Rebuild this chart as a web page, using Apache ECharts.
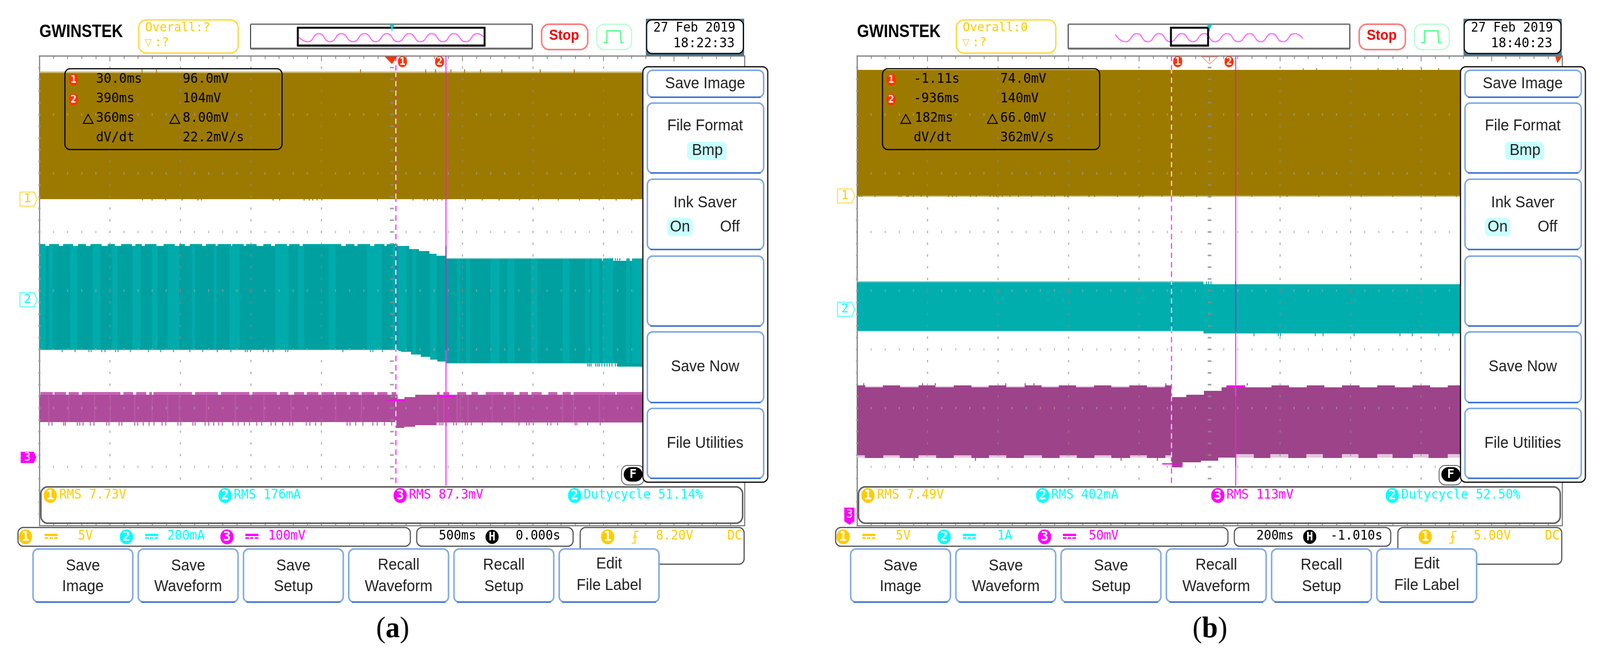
<!DOCTYPE html>
<html>
<head>
<meta charset="utf-8">
<title>Oscilloscope captures</title>
<script src="https://cdn.jsdelivr.net/npm/echarts@6/dist/echarts.min.js"></script>
<style>
  html, body { margin: 0; padding: 0; background: #fff; width: 100%; height: 100%; overflow: hidden; }
  #main { width: 4266px; height: 1675px; transform-origin: 0 0; }
</style>
</head>
<body>
<div id="main"></div>
<script>
// x is ms from screen centre, y is divisions from screen centre

// ---- panel a ----
var brownA = [[-2500, 1800, 1.5625, 3.71]]
var brownEdgeA = [[-2500, 1800, 3.71, 3.735]]
var brownTopSpikesA = [-1772, -1670, -223, 239, 309, 418, 515, 628, 779, 1052, 1293]
var brownLowSpikesA = [-1769, -1701, -1604, -1488, -1376, -1351, -843, -796, -623, -586, -562, -531, -497, -104, 150, 228, 252, 293, 323, 354, 384, 520, 640, 760, 905, 1040, 1180, 1330, 1470, 1590, 1700]

var tealA = [
  [-2500, 27, -1.009, 0.76], [27, 40, -1.009, 0.791], [40, 64, -1.009, 0.76], [64, 123, -1.042, 0.76],
  [123, 135, -1.042, 0.705], [135, 191, -1.09, 0.705], [191, 204, -1.09, 0.672], [204, 266, -1.124, 0.672],
  [266, 272, -1.124, 0.627], [272, 317, -1.175, 0.627], [317, 323, -1.175, 0.592], [323, 379, -1.208, 0.592],
  [379, 384, -1.241, 0.592], [384, 1489, -1.241, 0.554], [1489, 1602, -1.241, 0.512], [1602, 1800, -1.292, 0.512]
]
var tealCapsA = [
  [-2501, -2458], [-2430, -2363], [-2332, -2261], [-2226, -2170], [-2139, -2058], [-2017, -1966], [-1921, -1844], [-1819, -1773],
  [-1752, -1671], [-1620, -1539], [-1508, -1467], [-1433, -1345], [-1319, -1250], [-1237, -1142], [-1132, -1050], [-1034, -959],
  [-912, -857], [-830, -745], [-729, -653], [-633, -358], [-328, -267], [-246, -155], [-124, -53], [-37, 24]
]
var tealLightA = [
  [-2495, -2454], [-2434, -2404], [-2281, -2231], [-2119, -2068], [-1986, -1946], [-1840, -1783], [-1701, -1661], [-1590, -1508],
  [-1417, -1396], [-1264, -1244], [-1152, -1081], [-826, -735], [-664, -623], [-450, -399], [-175, -73]
]
var tealLightStepA = [[5, 28, -1.0, 0.76], [46, 105, -1.03, 0.75], [147, 171, -1.08, 0.70], [272, 317, -1.17, 0.62]]
var tealLightTailA = [
  [462, 483], [527, 554], [699, 764], [818, 871], [984, 1032], [1210, 1257], [1370, 1400],
  [1418, 1471], [1495, 1566], [1661, 1685], [1703, 1780]
]
var tealLowSpikesA = [-2338, -2247, -2149, -2133, -2058, -2035, -1960, -1942, -1854, -1726, -1640, -1549, -1433, -1343, -1239, -1142, -1040, -1026, -1003, -912, -877, -843, -755, -739, -348, -151, -135, -67]
var tealTailLowSpikesA = [1388, 1400, 1412, 1445, 1459, 1471, 1489, 1507, 1525, 1542, 1560, 1584, 1599]
var tealTailTopSpikesA = [1513, 1531, 1549, 1566, 1584, 1599, 1616]

var purpleA = [
  [-2500, 27, -2.239, -1.775], [27, 40, -2.338, -1.775], [40, 88, -2.338, -1.848], [88, 165, -2.316, -1.811],
  [165, 317, -2.294, -1.773], [317, 1800, -2.245, -1.773]
]
var purpleCapsA = [
  [-2491, -2404], [-2393, -2312], [-2292, -2220], [-2200, -1925], [-1905, -1834], [-1813, -1742], [-1722, -1701], [-1691, -1417],
  [-1396, -1233], [-1213, -1010], [-989, -816], [-796, -735], [-694, -623], [-603, -521], [-501, -409], [-399, -318], [-297, -236],
  [-216, -124], [-104, -33], [-2, 28], [319, 337], [364, 408], [462, 527], [563, 610], [664, 792], [808, 865], [903, 966],
  [990, 1061], [1109, 1172], [1210, 1269], [1287, 1584], [1592, 1780]
]
var purpleLowSpikesA = [
  -2434, -2410, -2328, -2316, -2231, -2214, -2190, -2139, -2113, -2023, -2007, -1935, -1915, -1824, -1803, -1763, -1722, -1687,
  -1630, -1604, -1518, -1498, -1412, -1396, -1325, -1299, -1264, -1229, -1203, -1128, -1091, -1046, -1010, -959, -924, -857, -826,
  -775, -725, -704, -607, -582, -542, -501, -318, -297, -257, -206, -135, -104, -53, -2
]
var purpleTailSpikesA = [337, 349, 361, 438, 456, 521, 535, 563, 640, 780, 901, 955, 972, 1002, 1103, 1127, 1174, 1299, 1311, 1388, 1477]
var purpleStreaksA = [-2434, -2292, -2109, -1997, -1824, -1701, -1590, -1508, -1315, -1111, -908, -715, -399, -216, 325, 367, 462, 485, 539, 711, 871, 1210, 1287, 1471]

var cursorsA = [28, 383]
var cursorMarksA = [-1.868, -1.80]
var overviewXA = [129, 153, 182, 212, 242, 273, 304, 334, 363, 393, 423, 453, 483, 513, 542, 574, 604, 621]
var overviewYA = [0.1, -1, 1, -1, 1, -1, 1, -1, 1, -1, 1, -1, 1, -1, 1, -1, 1, 0.2]

// ---- panel b ----
var brownB = [[-1000, 800, 1.622, 3.763]]
var brownEdgeB = [[-1000, 800, 1.60, 1.622]]
var brownTopSpikesB = [266, 304, 478, 534, 547, 601, 650]
var brownLowSpikesB = [-993, -987, -949, -881, -875, -859, -855, -840, -818, -802, -741, -729, -718, -678, -662, -623, -612, -604, -588, -566, -542, -505, -467, -448, -440, -411, -403, -342, -326, -261, -197, -189, -135, -83, -74, -37, 0, 120, 220, 310, 430, 520, 640, 700]

var tealB = [[-1000, -17, -0.698, 0.16], [-17, 800, -0.728, 0.11]]
var tealEdgeB = [[-1000, -17, 0.145, 0.16], [-1000, -17, -0.698, -0.683]]
var tealTopSpikesB = [-9, -3, 4]
var tealLowSpikesB = [126, 195, 201, 300, 322, 410, 540, 575, 650, 690]

var purpleB = [
  [-1000, -109, -2.80, -1.646], [-109, -77, -3.012, -1.811], [-77, -66, -2.926, -1.811], [-66, -25, -2.926, -1.775],
  [-25, -16, -2.897, -1.775], [-16, 24, -2.897, -1.707], [24, 34, -2.845, -1.707], [34, 75, -2.845, -1.646], [75, 800, -2.78, -1.646]
]
var purpleTopTabsB = [
  [-1000, -977], [-927, -878], [-826, -778], [-726, -676], [-627, -577], [-525, -477], [-428, -379], [-328, -279], [-228, -178],
  [-127, -109], [48, 101], [175, 225], [275, 325], [375, 425], [475, 525], [575, 625], [675, 725]
]
var purpleLowTabsB = [
  [-978, -926], [-879, -826], [-776, -726], [-676, -626], [-577, -527], [-476, -426], [-377, -327], [-279, -226], [-178, -126],
  [125, 172], [223, 274], [321, 375], [422, 476], [519, 577], [621, 675], [711, 780]
]
var purplePaleB = [[-1000, -109, -1.646, -1.625], [-1000, -109, -2.845, -2.80], [75, 800, -2.845, -2.78]]
var purpleTopSpikesB = [-981, -814, -778, -578, -523, -498, -124, 107]
var purpleLowSpikesB = [-838, -664, -251, -148]

var cursorsB = [-108, 74]
var cursorMarksB = [-2.95, -1.632]
var overviewXB = [125, 153, 183, 212, 242, 272, 303, 332, 363, 391, 424, 453, 484, 513, 543, 572, 604, 626]
var overviewYB = [0.8, -1, 1, -1, 1, -1, 1, -1, 1, -1, 1, -1, 1, -1, 1, -1, 1, -0.2]

// ---- screen grid ----
var rowMajor = [-4, -3, -2, -1, 0, 1, 2, 3, 4]
var rowMinor = [-3.8, -3.6, -3.4, -3.2, -3, -2.8, -2.6, -2.4, -2.2, -2, -1.8, -1.6, -1.4, -1.2, -1, -0.8, -0.6, -0.4, -0.2, 0, 0.2, 0.4, 0.6, 0.8, 1, 1.2, 1.4, 1.6, 1.8, 2, 2.2, 2.4, 2.6, 2.8, 3, 3.2, 3.4, 3.6, 3.8]
var colDivs = [-5, -4, -3, -2, -1, 0, 1, 2, 3, 4]
var colSubDivs = [0, 0.2, 0.4, 0.6, 0.8]

// ---- readouts ----
var softKeys = [['Save', 'Image'], ['Save', 'Waveform'], ['Save', 'Setup'], ['Recall', 'Waveform'], ['Recall', 'Setup'], ['Edit', 'File Label']]
var readoutA = { overall: 'Overall:?', date: '27 Feb 2019', time: '18:22:33', cursor: ['30.0ms', '96.0mV', '390ms', '104mV', '360ms', '8.00mV', 'dV/dt', '22.2mV/s'], rms: ['RMS 7.73V', 'RMS 176mA', 'RMS 87.3mV', 'Dutycycle 51.14%'], scale: ['5V', '200mA', '100mV'], base: ['500ms', '0.000s'], trig: '8.20V', caption: 'a' }
var readoutB = { overall: 'Overall:0', date: '27 Feb 2019', time: '18:40:23', cursor: ['-1.11s', '74.0mV', '-936ms', '140mV', '182ms', '66.0mV', 'dV/dt', '362mV/s'], rms: ['RMS 7.49V', 'RMS 402mA', 'RMS 113mV', 'Dutycycle 52.50%'], scale: ['5V', '1A', '50mV'], base: ['200ms', '-1.010s'], trig: '5.00V', caption: 'b' }

var YELLOW = '#FFCC00', CYAN = '#00FFFF', MAGENTA = '#FF00FF', ORANGE = '#FF3300'
var MONO = '"DejaVu Sans Mono"', SANS = '"Liberation Sans"'

// rows are [t0, t1, lo, hi]
function rowsFromPairs(pairs, lo, hi) {
  return pairs.map(function (p) { return [p[0], p[1], lo, hi] })
}

// snapped to whole pixels so neighbouring rows leave no seam
function renderBand(params, api) {
  var a = api.coord([api.value(0), api.value(3)])
  var b = api.coord([api.value(1), api.value(2)])
  var x = Math.round(a[0]), y = Math.round(a[1])
  return { type: 'rect', shape: { x: x, y: y, width: Math.round(b[0]) - x, height: Math.round(b[1]) - y }, style: { fill: api.visual('color') } }
}

function bandSeries(axis, rows, color, z) {
  return {
    type: 'custom', renderItem: renderBand, xAxisIndex: axis, yAxisIndex: axis, data: rows, z: z, silent: true, clip: true,
    progressive: 0, encode: { x: [0, 1], y: [2, 3] }, itemStyle: { color: color }
  }
}

function spikeSeries(axis, times, base, tip, color, z, width) {
  return {
    type: 'custom', xAxisIndex: axis, yAxisIndex: axis, z: z, silent: true, clip: true, progressive: 0,
    data: times.map(function (t) { return [t, base, tip] }), encode: { x: 0, y: [1, 2] }, itemStyle: { color: color },
    renderItem: function (params, api) {
      var a = api.coord([api.value(0), api.value(1)])
      var b = api.coord([api.value(0), api.value(2)])
      return { type: 'rect', shape: { x: a[0] - width / 2, y: Math.min(a[1], b[1]), width: width, height: Math.abs(a[1] - b[1]) }, style: { fill: api.visual('color') } }
    }
  }
}

function dotSeries(axis, points, size, color) {
  return {
    type: 'scatter', xAxisIndex: axis, yAxisIndex: axis, data: points, symbol: 'rect', symbolSize: size, silent: true, z: 6,
    itemStyle: { color: color }
  }
}

// the dotted graticule sits on top of the traces
function gridSeries(axis, msPerDiv) {
  var cols = [], rows = [], centre = [], rim = [], longTicks = []
  colDivs.forEach(function (d, i) {
    rowMinor.forEach(function (r) {
      if (d === 0) { centre.push([0, r]) } else if (i === 0) { rim.push([d * msPerDiv, r]) } else { cols.push([d * msPerDiv, r]) }
    })
    colSubDivs.forEach(function (s) {
      if (s === 0 && d !== 0 && d !== -5) { longTicks.push([d * msPerDiv, 0]) }
      if (s !== 0) {
        rowMajor.slice(1, 8).forEach(function (r) { rows.push([(d + s) * msPerDiv, r]) })
      }
    })
  })
  return [
    dotSeries(axis, cols, [2.5, 6], '#8C8C8C'), dotSeries(axis, rows, [2.5, 6], '#A8A8A8'),
    dotSeries(axis, centre, [10, 4], '#8C8C8C'), dotSeries(axis, rim, [6, 4], '#A0A0A0'),
    dotSeries(axis, longTicks, [2.5, 12], '#8C7C7C')
  ]
}

function lineSeries(axis, t, y0, y1, color, width, dash, z) {
  return {
    type: 'line', xAxisIndex: axis, yAxisIndex: axis, data: [[t, y0], [t, y1]], symbol: 'none', silent: true, z: z,
    lineStyle: { color: color, width: width, type: dash ? [14, 10] : 'solid', cap: 'butt' }
  }
}

function cursorSeries(axis, cursors, marks, spanWidth, bands) {
  var out = []
  // dashed cursor 1
  out.push(lineSeries(axis, cursors[0], 4, -3.32, '#FF33FF', 3, true, 7))
  bands.forEach(function (b) {
    out.push(lineSeries(axis, cursors[0], b[0], b[1], b[2], 3, false, 8))
    out.push(lineSeries(axis, cursors[0], b[0], b[1], b[3], 3, true, 9))
  })
  // solid cursor 2
  out.push(lineSeries(axis, cursors[1], 4, -3.32, '#FF33FF', 3, false, 7))
  bands.forEach(function (b) {
    out.push(lineSeries(axis, cursors[1], b[0], b[1], b[2], 3, false, 8))
  })
  out.push({
    type: 'scatter', xAxisIndex: axis, yAxisIndex: axis, symbol: 'rect', symbolSize: [spanWidth, 4], silent: true, z: 9,
    data: [[cursors[0], marks[0]], [cursors[1], marks[1]]], itemStyle: { color: MAGENTA }
  })
  return out
}

function overviewSeries(axis, xs, ys) {
  return {
    type: 'line', xAxisIndex: axis, yAxisIndex: axis, data: xs.map(function (x, i) { return [x, ys[i]] }), symbol: 'none', silent: true,
    smooth: 0.55, smoothMonotone: 'x', lineStyle: { color: '#FF66FF', width: 3 }, z: 3
  }
}

// ---- chrome drawn on the page, ox is the panel offset ----
function txt(x, y, s, color, size, font, opt) {
  opt = opt || {}
  return {
    type: 'text', x: x, y: y, z: opt.z || 110, scaleX: opt.scaleX || 1, silent: true,
    style: { text: s, fill: color, font: (opt.weight || 'normal') + ' ' + size + 'px ' + font, textAlign: opt.align || 'left', textVerticalAlign: 'middle' }
  }
}
function box(x, y, w, h, r, stroke, lw, fill, z) {
  return { type: 'rect', z: z || 105, silent: true, shape: { x: x, y: y, width: w, height: h, r: r }, style: { fill: fill || 'transparent', stroke: stroke || 'transparent', lineWidth: lw || 0 } }
}
function poly(points, fill, stroke, lw, closed, z) {
  return { type: closed === false ? 'polyline' : 'polygon', z: z || 108, silent: true, shape: { points: points }, style: { fill: closed === false ? 'transparent' : (fill || 'transparent'), stroke: stroke || 'transparent', lineWidth: lw || 0 } }
}
function pill(cx, cy, w, h, fill, digit, digitSize) {
  return [box(cx - w / 2, cy - h / 2, w, h, w / 2, null, 0, fill, 108), txt(cx, cy + 1, digit, '#fff', digitSize || 30, MONO, { align: 'center', z: 109, weight: 'bold' })]
}
function softKey(x, y, w, h, z) {
  return [box(x, y, w, h, 14, '#7FA8E8', 4, '#fff', z || 106), poly([[x + 8, y + h], [x + w - 8, y + h]], null, '#3F74D4', 4, false, z || 107)]
}

function drawPanel(ox, info, isA) {
  var g = [], t = info.cursor
  function add(items) { g = g.concat(items) }

  // header
  add(txt(ox + 105, 82, 'GWINSTEK', '#000', 47, SANS, { weight: 'bold', scaleX: 0.88 }))
  add(box(ox + 370, 51, 265, 85, 20, '#FFD21E', 3, '#fff'))
  add(txt(ox + 387, 72, info.overall, YELLOW, 32, MONO))
  add(txt(ox + 385, 110, '▽', '#FFD966', 34, MONO))
  add(txt(ox + 412, 110, ':?', YELLOW, 32, MONO))

  add(box(ox + 668, 63, 751, 61, 0, '#000', 2, '#fff', 1))
  add(box(ox + 668, 60, 751, 4, 0, null, 0, '#808080', 2))
  add(box(ox + 668, 122, 751, 5, 0, null, 0, '#707070', 2))
  var winX = isA ? 794 : 942, winW = isA ? 498 : 99
  add(box(ox + winX, 112, winW, 5, 0, null, 0, '#C8C8C8', 2))
  add(box(ox + winX, 71, winW, 46, 0, '#000', 5, null, 4))
  var mark = ox + 1045
  add(poly([[mark - 7, 63], [mark + 7, 63], [mark + 1, 75], [mark + 1, 80], [mark - 1, 80], [mark - 1, 75]], '#00D0D0'))

  add(box(ox + 1444, 62, 123, 65, 20, '#FF7878', 4, '#fff'))
  add(txt(ox + 1504, 92, 'Stop', '#F00000', 36, SANS, { weight: 'bold', align: 'center' }))
  add(box(ox + 1591, 62, 93, 65, 20, '#B0FFD0', 3, '#fff'))
  add(poly([[ox + 1609, 109], [ox + 1618, 109], [ox + 1618, 79], [ox + 1654, 79], [ox + 1656, 109], [ox + 1663, 109]], null, '#66FF99', 4, false))
  add(box(ox + 1722, 48, 262, 95, 0, null, 0, '#4F7890', 104))
  add(box(ox + 1724, 51, 258, 86, 14, '#000', 3, '#fff'))
  add(txt(ox + 1742, 72, info.date, '#000', 33, MONO))
  add(txt(ox + 1795, 112, info.time, '#000', 34, MONO))

  // cursor readout
  add(box(ox + 173, 176, 579, 207, 14, '#000', 3, null))
  var rows = [203, 253, 303, 353]
  add(pill(ox + 196, 204, 24, 30, ORANGE, '1', 26))
  add(pill(ox + 196, 255, 24, 30, ORANGE, '2', 26))
  add(txt(ox + 256, rows[0], t[0], '#000', 34, MONO))
  add(txt(ox + 487, rows[0], t[1], '#000', 34, MONO))
  add(txt(ox + 256, rows[1], t[2], '#000', 34, MONO))
  add(txt(ox + 487, rows[1], t[3], '#000', 34, MONO))
  add(poly([[ox + 235, 293], [ox + 248, 316], [ox + 222, 316]], null, '#000', 2.5))
  add(poly([[ox + 466, 293], [ox + 479, 316], [ox + 453, 316]], null, '#000', 2.5))
  add(txt(ox + (isA ? 256 : 259), rows[2], t[4], '#000', 34, MONO))
  add(txt(ox + 487, rows[2], t[5], '#000', 34, MONO))
  add(txt(ox + 256, rows[3], t[6], '#000', 34, MONO))
  add(txt(ox + 487, rows[3], t[7], '#000', 34, MONO))

  // cursor and trigger flags on the ruler
  if (isA) {
    add(poly([[ox + 1026, 145], [ox + 1059, 145], [ox + 1045, 164]], ORANGE))
    add(pill(ox + 1073, 158, 24, 28, ORANGE, '1', 26))
    add(pill(ox + 1172, 158, 24, 28, ORANGE, '2', 26))
  } else {
    add(poly([[ox + 1025, 146], [ox + 1066, 146], [ox + 1045, 164]], null, '#FF9A80', 2))
    add(pill(ox + 960, 158, 24, 28, ORANGE, '1', 26))
    add(pill(ox + 1097, 158, 24, 28, ORANGE, '2', 26))
    add(poly([[ox + 1967, 145], [ox + 1985, 145], [ox + 1972, 162]], ORANGE))
  }

  // channel flags
  var y1 = isA ? 510 : 502, y2 = isA ? 768 : 792
  add(poly([[ox + 53, y1 - 18], [ox + 91, y1 - 18], [ox + 99, y1], [ox + 91, y1 + 18], [ox + 53, y1 + 18]], '#fff', '#FFE066', 3))
  add(txt(ox + 73, y1, '1', YELLOW, 32, MONO, { align: 'center' }))
  add(poly([[ox + 53, y2 - 18], [ox + 91, y2 - 18], [ox + 99, y2], [ox + 91, y2 + 18], [ox + 53, y2 + 18]], '#fff', '#66FFFF', 3))
  add(txt(ox + 73, y2, '2', CYAN, 32, MONO, { align: 'center' }))
  if (isA) {
    add(poly([[55, 1157], [90, 1157], [97, 1171], [90, 1186], [55, 1186]], MAGENTA))
    add(txt(73, 1172, '3', '#fff', 30, MONO, { align: 'center', z: 109 }))
  } else {
    add(poly([[ox + 71, 1300], [ox + 98, 1300], [ox + 98, 1335], [ox + 85, 1344], [ox + 71, 1335]], MAGENTA))
    add(txt(ox + 85, 1318, '3', '#fff', 30, MONO, { align: 'center', z: 109 }))
  }

  // measurement strip
  add(box(ox + 109, 1247, 1871, 93, 18, '#606060', 4, '#fff', 90))
  var rmsCircles = [[134, YELLOW, '1'], [600, CYAN, '2'], [1067, MAGENTA, '3'], [1532, CYAN, '2']]
  var rmsX = [158, 623, 1090, 1556], rmsColor = [YELLOW, CYAN, MAGENTA, CYAN]
  rmsCircles.forEach(function (c, i) {
    add(pill(ox + c[0], 1269, 35, 38, c[1], c[2], 34))
    add(txt(ox + rmsX[i], 1268, info.rms[i], rmsColor[i], 33, MONO))
  })

  // vertical scale strip
  add(box(ox + 48, 1351, 1046, 48, 14, '#505050', 3, '#fff'))
  var scaleCircles = [[68, YELLOW, '1', 119, 208], [337, CYAN, '2', 387, isA ? 446 : 479], [605, MAGENTA, '3', 654, isA ? 715 : 723]]
  scaleCircles.forEach(function (c, i) {
    add(pill(ox + c[0], 1375, 35, 38, c[1], c[2], 34))
    add(box(ox + c[3], 1367, 35, 6, 0, null, 0, c[1], 108))
    add(box(ox + c[3], 1376, 10, 4, 0, null, 0, c[1], 108))
    add(box(ox + c[3] + 13, 1376, 9, 4, 0, null, 0, c[1], 108))
    add(box(ox + c[3] + 25, 1376, 10, 4, 0, null, 0, c[1], 108))
    add(txt(ox + c[4], 1373, info.scale[i], c[1], 33, MONO))
  })

  // timebase strip
  add(box(ox + 1111, 1351, 417, 48, 14, '#505050', 3, '#fff'))
  add(txt(ox + 1170, 1373, info.base[0], '#000', 33, MONO))
  add(pill(ox + 1312, 1375, 35, 36, '#000', 'H', 30))
  add(txt(ox + (isA ? 1375 : 1367), 1373, info.base[1], '#000', 33, MONO))

  // trigger strip, runs underneath the last soft key
  add(box(ox + 1547, 1351, 437, 94, 14, '#505050', 3, '#fff', 95))
  add(pill(ox + 1620, 1375, 35, 38, YELLOW, '1', 34))
  add(poly([[ox + 1704, 1361], [ox + 1693, 1361], [ox + 1693, 1391], [ox + 1684, 1391]], null, YELLOW, 2.5, false))
  add(poly([[ox + 1688, 1379], [ox + 1693, 1370], [ox + 1698, 1379]], null, YELLOW, 2, false))
  add(txt(ox + 1749, 1373, info.trig, YELLOW, 33, MONO))
  add(txt(ox + 1939, 1373, 'DC', YELLOW, 33, MONO))

  // bottom soft keys
  softKeys.forEach(function (k, i) {
    var x = 88 + i * 280.6
    add(softKey(ox + x, 1406, 266, 136))
    var up = i === 5 ? 5 : (i >= 3 ? 2 : 0)
    add(txt(ox + x + 133, 1450 - up, k[0], '#222', 40, SANS, { align: 'center' }))
    add(txt(ox + x + 133, 1503 - (i === 5 ? 3 : 0), k[1], '#222', 40, SANS, { align: 'center' }))
  })

  // F badge and side menu
  add(box(ox + 1657, 1192, 60, 50, 16, '#505050', 2, '#fff', 96))
  add(pill(ox + 1688, 1215, 50, 37, '#000', 'F', 32))
  add(box(ox + 1714, 171, 333, 1064, 14, '#000', 3, '#fff', 100))
  var sideKeys = [[180, 69], [264, 179], [459, 180], [656, 179], [850, 181], [1046, 179]]
  sideKeys.forEach(function (k) { add(softKey(ox + 1726, k[0], 310, k[1], 101)) })
  add(box(ox + 1832, 363, 105, 47, 12, null, 0, '#C8FFFF'))
  add(box(ox + 1779, 558, 68, 47, 12, null, 0, '#C8FFFF'))
  add(txt(ox + 1880, 215, 'Save Image', '#222', 40, SANS, { align: 'center' }))
  add(txt(ox + 1880, 323, 'File Format', '#222', 40, SANS, { align: 'center' }))
  add(txt(ox + 1886, 386, 'Bmp', '#222', 40, SANS, { align: 'center' }))
  add(txt(ox + 1880, 520, 'Ink Saver', '#222', 40, SANS, { align: 'center' }))
  add(txt(ox + 1813, 582, 'On', '#222', 40, SANS, { align: 'center' }))
  add(txt(ox + 1946, 582, 'Off', '#222', 40, SANS, { align: 'center' }))
  add(txt(ox + 1880, 940, 'Save Now', '#222', 40, SANS, { align: 'center' }))
  add(txt(ox + 1880, 1136, 'File Utilities', '#222', 40, SANS, { align: 'center' }))

  // caption, letter is bold
  add({
    type: 'text', x: ox + (isA ? 1047 : 1046), y: 1612, z: 110, silent: true,
    style: {
      text: '{p|(}{l|' + info.caption + '}{p|)}', textAlign: 'center', textVerticalAlign: 'middle',
      rich: { p: { font: '76px "Liberation Serif"', fill: '#000' }, l: { font: 'bold 76px "Liberation Serif"', fill: '#000' } }
    }
  })
  return g
}

var GRID_A = { left: 105, top: 143, width: 1880, height: 1203 }
var GRID_B = { left: 2285, top: 143, width: 1880, height: 1203 }

function timeAxis(idx, pos, half, step) {
  return {
    type: 'value', gridIndex: idx, position: pos, min: -half, max: half, interval: step,
    axisLine: { show: true, onZero: false, lineStyle: { color: '#808080', width: 3 } },
    axisTick: { show: true, inside: true, length: 14, lineStyle: { color: '#808080', width: 2 } },
    minorTick: { show: true, splitNumber: 5, length: 8, lineStyle: { color: '#808080', width: 2 } },
    axisLabel: { show: false }, splitLine: { show: false }, minorSplitLine: { show: false }
  }
}
function divAxis(idx, pos) {
  return {
    type: 'value', gridIndex: idx, position: pos, min: -4, max: 4, interval: 1,
    axisLine: { show: true, onZero: false, lineStyle: { color: '#808080', width: 3 } },
    axisTick: { show: false }, axisLabel: { show: false }, splitLine: { show: false }
  }
}
function hiddenAxis(idx, min, max) {
  return { type: 'value', gridIndex: idx, min: min, max: max, show: false, splitLine: { show: false } }
}

var BROWN = '#9C7A00', BROWN_PALE = '#CDBB78', TEAL_DARK = '#00A0A0', TEAL_LIGHT = '#00ABAB', TEAL = '#00AEAE', TEAL_PALE = '#80CFCF'
var PURPLE_A = '#AE4C9B', PURPLE_A_CAP = '#C664B6', PURPLE_B = '#9D438A', PURPLE_PALE = '#E2C6DE'

// axis pair 0 and 2 are the screens, 1 and 3 carry the second ruler and right border
var series = [].concat(
  bandSeries(0, brownA, BROWN, 2), bandSeries(0, brownEdgeA, BROWN_PALE, 2),
  spikeSeries(0, brownTopSpikesA, 3.71, 3.77, BROWN, 2, 2.5), spikeSeries(0, brownLowSpikesA, 1.5625, 1.535, BROWN, 2, 2.5),
  bandSeries(0, tealA, TEAL_DARK, 2),
  bandSeries(0, rowsFromPairs(tealLightA, -1.009, 0.76), TEAL_LIGHT, 3),
  bandSeries(0, tealLightStepA, TEAL_LIGHT, 3),
  bandSeries(0, rowsFromPairs(tealLightTailA, -1.24, 0.55), TEAL_LIGHT, 3),
  bandSeries(0, rowsFromPairs(tealCapsA, 0.76, 0.794), '#00A8A8', 3),
  bandSeries(0, [[384, 1489, 0.545, 0.554], [384, 1602, -1.241, -1.232]], TEAL_PALE, 3),
  spikeSeries(0, tealLowSpikesA, -1.009, -1.045, TEAL_DARK, 2, 2.5),
  spikeSeries(0, tealTailLowSpikesA, -1.241, -1.292, TEAL_DARK, 2, 2.5),
  spikeSeries(0, tealTailTopSpikesA, 0.512, 0.554, TEAL_DARK, 2, 2.5),
  bandSeries(0, purpleA, PURPLE_A, 2),
  bandSeries(0, rowsFromPairs(purpleCapsA, -1.773, -1.726), PURPLE_A_CAP, 3),
  spikeSeries(0, purpleLowSpikesA, -2.239, -2.30, '#BC70B0', 2, 3),
  spikeSeries(0, purpleTailSpikesA, -2.245, -2.294, '#BC70B0', 2, 3),
  spikeSeries(0, purpleStreaksA, -2.239, -1.775, '#BE5AA8', 3, 2.5),
  gridSeries(0, 500),
  cursorSeries(0, cursorsA, cursorMarksA, 50, [
    [1.5625, 3.71, '#DE3090', '#EFE8A0'], [-1.009, 0.76, '#8E3CC0', '#D8F4F4'], [-2.3, -1.8, '#E81ED0', '#F0D8F0']
  ]),

  bandSeries(2, brownB, BROWN, 2), bandSeries(2, brownEdgeB, BROWN_PALE, 2),
  spikeSeries(2, brownTopSpikesB, 3.763, 3.79, BROWN, 2, 2.5), spikeSeries(2, brownLowSpikesB, 1.622, 1.596, BROWN, 2, 2.5),
  bandSeries(2, tealB, TEAL, 2), bandSeries(2, tealEdgeB, TEAL_PALE, 3),
  spikeSeries(2, tealTopSpikesB, 0.11, 0.16, TEAL, 2, 2.5), spikeSeries(2, tealLowSpikesB, -0.728, -0.775, TEAL, 2, 2.5),
  bandSeries(2, purpleB, PURPLE_B, 2), bandSeries(2, purplePaleB, PURPLE_PALE, 3),
  bandSeries(2, rowsFromPairs(purpleTopTabsB, -1.646, -1.613), PURPLE_B, 4),
  bandSeries(2, rowsFromPairs(purpleLowTabsB, -2.85, -2.78), PURPLE_B, 4),
  spikeSeries(2, purpleTopSpikesB, -1.613, -1.576, PURPLE_B, 3, 2.5), spikeSeries(2, purpleLowSpikesB, -2.80, -2.897, PURPLE_B, 3, 2.5),
  gridSeries(2, 200),
  cursorSeries(2, cursorsB, cursorMarksB, 50, [
    [1.622, 3.763, '#E6208E', '#EFE8A0'], [-0.698, 0.16, '#8E3CC0', '#D8F4F4'], [-3.0, -1.8, '#E81ED0', '#F0D8F0']
  ]),

  overviewSeries(4, overviewXA, overviewYA), overviewSeries(5, overviewXB, overviewYB)
)

// the browser can come up narrower than the 4266 wide layout, squeeze the whole page to fit
var main = document.getElementById('main')
main.style.transform = 'scale(' + (window.innerWidth / 4266) + ',' + (window.innerHeight / 1675) + ')'

var chart = echarts.init(main, null, { renderer: 'canvas', width: 4266, height: 1675 })
chart.setOption({
  animation: false,
  backgroundColor: '#fff',
  grid: [
    GRID_A, GRID_B,
    { left: 668, top: 86, width: 751, height: 21 },
    { left: 2848, top: 86, width: 751, height: 21 }
  ],
  xAxis: [
    timeAxis(0, 'top', 2500, 500), timeAxis(0, 'bottom', 2500, 500),
    timeAxis(1, 'top', 1000, 200), timeAxis(1, 'bottom', 1000, 200),
    hiddenAxis(2, 0, 751), hiddenAxis(3, 0, 751)
  ],
  yAxis: [
    divAxis(0, 'left'), divAxis(0, 'right'),
    divAxis(1, 'left'), divAxis(1, 'right'),
    hiddenAxis(2, -1, 1), hiddenAxis(3, -1, 1)
  ],
  series: series,
  graphic: { elements: drawPanel(0, readoutA, true).concat(drawPanel(2180, readoutB, false)) }
})
</script>
</body>
</html>
